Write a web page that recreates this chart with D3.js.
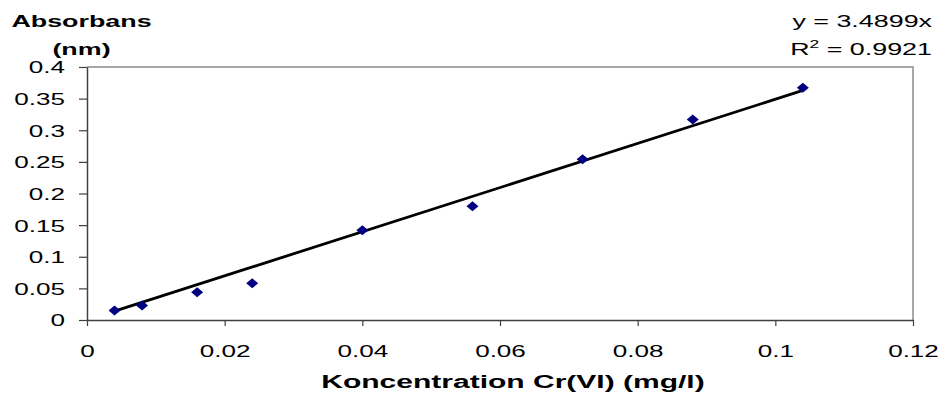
<!DOCTYPE html>
<html>
<head>
<meta charset="utf-8">
<script src="https://cdn.jsdelivr.net/npm/d3@7"></script>
<style>
  html, body { margin: 0; padding: 0; background: #fff; }
  svg { display: block; }
  text { font-family: "Liberation Sans", Arial, sans-serif; fill: #000; }
</style>
</head>
<body>
<svg id="chart" width="942" height="400"></svg>
<script>
// Calibration data: Cr(VI) concentration (mg/l) vs absorbance
const concentration = [0.004, 0.008, 0.016, 0.024, 0.040, 0.056, 0.072, 0.088, 0.104];
const absorbance    = [0.015, 0.023, 0.044, 0.058, 0.142, 0.180, 0.254, 0.317, 0.367];

// Linear trendline through the origin
const slope = 3.4899;
const rSquared = 0.9921;

const xTicks = [0, 0.02, 0.04, 0.06, 0.08, 0.1, 0.12];
const xTickLabels = ["0", "0.02", "0.04", "0.06", "0.08", "0.1", "0.12"];
const yTicks = [0, 0.05, 0.1, 0.15, 0.2, 0.25, 0.3, 0.35, 0.4];
const yTickLabels = ["0", "0.05", "0.1", "0.15", "0.2", "0.25", "0.3", "0.35", "0.4"];

const svg = d3.select("#chart");
const plot = { left: 87, right: 913, top: 67, bottom: 320 };
const sx = 1.58; // horizontal text stretch used throughout

const x = d3.scaleLinear().domain([0, 0.12]).range([plot.left, plot.right]);
const y = d3.scaleLinear().domain([0, 0.4]).range([plot.bottom, plot.top]);

// Plot-area frame (top and right edges)
svg.append("path")
  .attr("d", `M${plot.left},${plot.top}H${plot.right}V${plot.bottom}`)
  .attr("fill", "none").attr("stroke", "#8c8c8c").attr("stroke-width", 1.5);

// Axes
const xAxis = d3.axisBottom(x).tickValues(xTicks)
  .tickFormat((d, i) => xTickLabels[i]).tickSize(6).tickSizeOuter(0);
const yAxis = d3.axisLeft(y).tickValues(yTicks)
  .tickFormat((d, i) => yTickLabels[i]).tickSize(8).tickSizeOuter(0);

const gx = svg.append("g").attr("transform", `translate(0,${plot.bottom})`).call(xAxis);
const gy = svg.append("g").attr("transform", `translate(${plot.left},0)`).call(yAxis);

[gx, gy].forEach(g => {
  g.select(".domain").attr("stroke", "#404040").attr("stroke-width", 1.5);
  g.selectAll(".tick line").attr("stroke", "#404040").attr("stroke-width", 1.2);
  g.selectAll(".tick text")
    .style("font-family", '"Liberation Sans", Arial, sans-serif')
    .style("font-size", "16.5px").attr("fill", "#000");
});

gx.selectAll(".tick text")
  .attr("y", 37).attr("dy", 0)
  .attr("x", 0)
  .attr("transform", `scale(${sx},1)`);
gy.selectAll(".tick text")
  .attr("x", -22 / sx).attr("dy", "0.36em")
  .attr("transform", `scale(${sx},1)`);

// Trendline across the data range
const xExt = d3.extent(concentration);
svg.append("line")
  .attr("x1", x(xExt[0])).attr("y1", y(slope * xExt[0]))
  .attr("x2", x(xExt[1])).attr("y2", y(slope * xExt[1]))
  .attr("stroke", "#000").attr("stroke-width", 2.8);

// Diamond markers
const diamond = "M0,-5L6,0L0,5L-6,0Z";
svg.append("g").selectAll("path")
  .data(concentration.map((c, i) => [c, absorbance[i]]))
  .join("path")
  .attr("d", diamond)
  .attr("transform", d => `translate(${x(d[0])},${y(d[1])})`)
  .attr("fill", "#000080");

// Stretched text helper
function label(px, py, anchor, size, weight) {
  const g = svg.append("g").attr("transform", `translate(${px},${py}) scale(${sx},1)`);
  return g.append("text")
    .attr("text-anchor", anchor)
    .style("font-size", size + "px")
    .style("font-weight", weight);
}

// Y axis title
label(81.5, 27, "middle", 17, "bold").text("Absorbans");
label(81.5, 55, "middle", 17, "bold").text("(nm)");

// X axis title
label(513, 388, "middle", 19, "bold").text("Koncentration Cr(VI) (mg/l)");

// Trendline equation
label(932, 27, "end", 17, "normal").text(`y = ${slope}x`);
const r2 = label(932, 55, "end", 17, "normal");
r2.append("tspan").text("R");
r2.append("tspan").attr("dy", -7).style("font-size", "11px").text("2");
r2.append("tspan").attr("dy", 7).text(` = ${rSquared}`);
</script>
</body>
</html>
